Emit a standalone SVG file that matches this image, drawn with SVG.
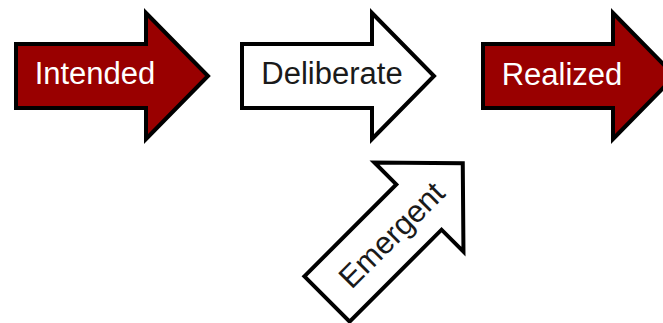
<svg xmlns="http://www.w3.org/2000/svg" width="663" height="323" viewBox="0 0 663 323">
<style>
.shape{stroke:#000;stroke-width:4;stroke-linejoin:miter}
.red{fill:#990000}
.white{fill:#fff}
.lbl{font-family:"Liberation Sans",Arial,sans-serif;font-size:31px;text-anchor:middle}
.lw{fill:#fff}
.lb{fill:#1a1a1a}
</style>
<defs>
<path id="arrow" d="M0,-32 H130 V-63 L192,0 L130,63 V32 H0 Z"/>
</defs>
<rect width="663" height="323" fill="#fff"/>
<g id="intended">
<use href="#arrow" class="shape red" transform="translate(16,76)"/>
<text class="lbl lw" x="95" y="84">Intended</text>
</g>
<g id="deliberate">
<use href="#arrow" class="shape white" transform="translate(242,76)"/>
<text class="lbl lb" x="332" y="84">Deliberate</text>
</g>
<g id="realized">
<use href="#arrow" class="shape red" transform="translate(483,76)"/>
<text class="lbl lw" x="562" y="85">Realized</text>
</g>
<g id="emergent" transform="translate(327,299) rotate(-45)">
<use href="#arrow" class="shape white"/>
<text class="lbl lb" x="91" y="11">Emergent</text>
</g>
<g id="connectors"></g>
</svg>
